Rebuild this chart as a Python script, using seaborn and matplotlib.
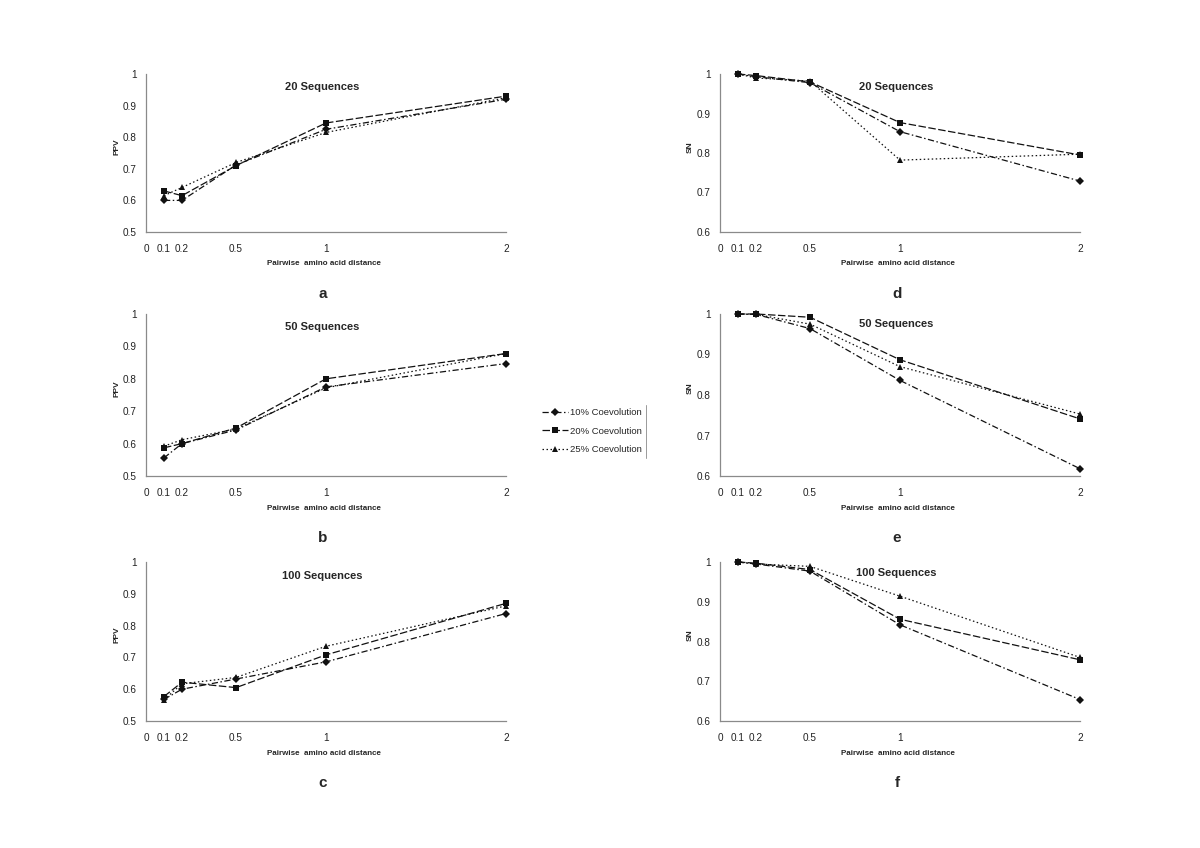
import matplotlib
matplotlib.use("Agg")
import matplotlib.pyplot as plt
from matplotlib.lines import Line2D
import seaborn as sns
import pandas as pd

# ---------------- data ----------------
distances = [0.1, 0.2, 0.5, 1, 2]
series_names = ["10% Coevolution", "20% Coevolution", "25% Coevolution"]

ppv20_10 = [0.600, 0.600, 0.712, 0.825, 0.920]
ppv20_20 = [0.630, 0.615, 0.710, 0.845, 0.930]
ppv20_25 = [0.615, 0.641, 0.720, 0.815, 0.925]

ppv50_10 = [0.556, 0.600, 0.642, 0.775, 0.847]
ppv50_20 = [0.587, 0.600, 0.648, 0.800, 0.878]
ppv50_25 = [0.592, 0.612, 0.645, 0.772, 0.878]

ppv100_10 = [0.568, 0.600, 0.632, 0.686, 0.838]
ppv100_20 = [0.577, 0.622, 0.605, 0.708, 0.870]
ppv100_25 = [0.567, 0.617, 0.637, 0.735, 0.862]

sn20_10 = [1.000, 0.993, 0.978, 0.854, 0.729]
sn20_20 = [1.000, 0.996, 0.980, 0.877, 0.795]
sn20_25 = [1.000, 0.990, 0.982, 0.782, 0.797]

sn50_10 = [1.000, 0.999, 0.964, 0.836, 0.618]
sn50_20 = [1.000, 1.000, 0.992, 0.887, 0.741]
sn50_25 = [1.000, 0.999, 0.975, 0.870, 0.753]

sn100_10 = [1.000, 0.995, 0.977, 0.842, 0.654]
sn100_20 = [1.000, 0.997, 0.981, 0.856, 0.754]
sn100_25 = [1.000, 0.995, 0.989, 0.914, 0.760]

x_ticks = [0, 0.1, 0.2, 0.5, 1, 2]
x_ticklabels = ["0", "0.1", "0.2", "0.5", "1", "2"]
ppv_ticks = [0.5, 0.6, 0.7, 0.8, 0.9, 1.0]
ppv_ticklabels = ["0.5", "0.6", "0.7", "0.8", "0.9", "1"]
sn_ticks = [0.6, 0.7, 0.8, 0.9, 1.0]
sn_ticklabels = ["0.6", "0.7", "0.8", "0.9", "1"]

titles = ["20 Sequences", "50 Sequences", "100 Sequences"]
letters_left = ["a", "b", "c"]
letters_right = ["d", "e", "f"]
xlabel_text = "Pairwise  amino acid distance"

# ---------------- style ----------------
sns.set_style("white")
plt.rcParams["font.family"] = ["Liberation Sans", "DejaVu Sans"]

fig = plt.figure(figsize=(12, 8.48), dpi=100)

W, H = 1200.0, 848.0
rows_px = [(74, 232), (314, 476), (562, 721)]
cols_px = [(146, 506), (720, 1080)]

def make_df(a, b, c):
    rows = []
    for name, vals in zip(series_names, (a, b, c)):
        for x, y in zip(distances, vals):
            rows.append({"d": x, "v": y, "s": name})
    return pd.DataFrame(rows)

panels_left = [(ppv20_10, ppv20_20, ppv20_25),
               (ppv50_10, ppv50_20, ppv50_25),
               (ppv100_10, ppv100_20, ppv100_25)]
panels_right = [(sn20_10, sn20_20, sn20_25),
                (sn50_10, sn50_20, sn50_25),
                (sn100_10, sn100_20, sn100_25)]

palette = {n: "#111111" for n in series_names}
dashes = {series_names[0]: (5, 2, 1.2, 2),
          series_names[1]: (6, 2),
          series_names[2]: (1.2, 2)}
markers = {series_names[0]: "D", series_names[1]: "s", series_names[2]: "^"}

title_y = [[0.92, 0.92, 0.91], [0.92, 0.94, 0.93]]
legend_handles = None

for ci, (col_panels, ylabel, yt, ytl, ylo, letters) in enumerate([
        (panels_left, "PPV", ppv_ticks, ppv_ticklabels, 0.5, letters_left),
        (panels_right, "SN", sn_ticks, sn_ticklabels, 0.6, letters_right)]):
    x0, x1 = cols_px[ci]
    for ri, vals in enumerate(col_panels):
        top, bot = rows_px[ri]
        ax = fig.add_axes([x0 / W, 1 - bot / H, (x1 - x0) / W, (bot - top) / H])
        df = make_df(*vals)
        sns.lineplot(data=df, x="d", y="v", hue="s", style="s",
                     palette=palette, dashes=dashes, markers=markers,
                     markersize=4.5, linewidth=0.9, markeredgewidth=0,
                     ax=ax, legend=(legend_handles is None), clip_on=False)
        if legend_handles is None:
            legend_handles, legend_labels = ax.get_legend_handles_labels()
            ax.get_legend().remove()
        ax.set_xlim(0, 2)
        ax.set_ylim(ylo, 1.0)
        ax.set_xticks(x_ticks)
        ax.set_xticklabels(x_ticklabels)
        ax.set_yticks(yt)
        ax.set_yticklabels(ytl)
        for sp in ["top", "right"]:
            ax.spines[sp].set_visible(False)
        for sp in ["left", "bottom"]:
            ax.spines[sp].set_color("#8a8a8a")
            ax.spines[sp].set_linewidth(0.9)
        ax.tick_params(axis="both", direction="out", length=3.5, width=0.8,
                       color="#8a8a8a", labelsize=7.2, labelcolor="#222222",
                       pad=3)
        ax.tick_params(axis="x", pad=5)
        ax.set_xlabel(xlabel_text, fontsize=5.8, fontweight="bold")
        ax.xaxis.set_label_coords(0.494, -0.18)
        ax.set_ylabel(ylabel, fontsize=6, fontweight="bold")
        ax.yaxis.set_label_coords(-0.072, 0.54)
        ax.text(0.49, title_y[ci][ri], titles[ri], transform=ax.transAxes,
                ha="center", va="center", fontsize=8, fontweight="bold")
        lx = (x0 + x1) / 2.0 - 3
        ly = bot + 62
        fig.text(lx / W, 1 - ly / H, letters[ri], ha="center", va="center",
                 fontsize=11, fontweight="bold")

leg = fig.legend(legend_handles, legend_labels, loc="center",
                 bbox_to_anchor=(592 / W, 1 - 431 / H), frameon=False,
                 fontsize=6.8, handlelength=2.8, handletextpad=0.2,
                 labelspacing=1.0, borderpad=0.2)
fig.add_artist(Line2D([646 / W, 646 / W], [1 - 405 / H, 1 - 458 / H],
                      transform=fig.transFigure, color="#9a9a9a", lw=0.7))

fig.savefig("out.png", dpi=100, facecolor="white")
